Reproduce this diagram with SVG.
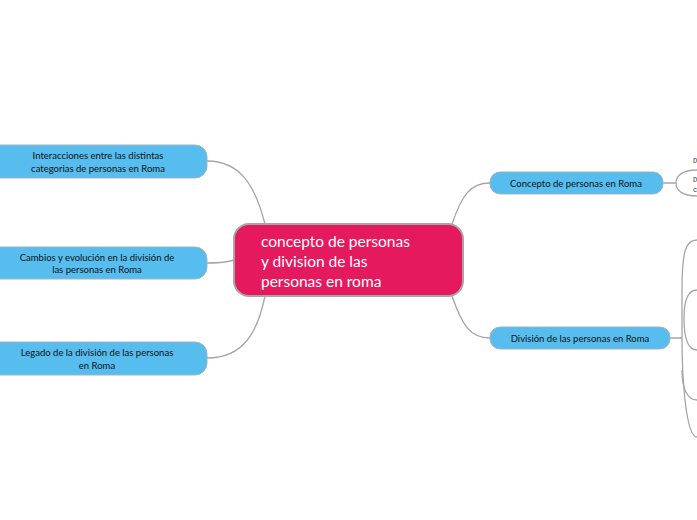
<svg xmlns="http://www.w3.org/2000/svg" width="697" height="520" viewBox="0 0 697 520">
<style>
.c{fill:none;stroke:#a6a6a6;stroke-width:1.3}
.n{fill:#56bdee;stroke:#9fb3c0;stroke-width:1}
.t{font-family:"Lato","Liberation Sans",sans-serif;font-size:9.5px;fill:#111;text-anchor:middle}
.s{font-family:"Liberation Mono",monospace;font-size:7px;fill:#333}
</style>
<rect width="697" height="520" fill="#fff"/>
<g id="connectors">
<path class="c" d="M207,161 C240,161 255,185 265,224"/>
<path class="c" d="M207,263 C225,263 226,262 234,260"/>
<path class="c" d="M207,358 C245,358 258,330 265,296"/>
<path class="c" d="M452,224 C462,195 470,183 490,183"/>
<path class="c" d="M452,296 C462,325 470,338 490,338"/>
<path class="c" d="M663,183 L676,183 M697,170 C682,170 676,176 676,183 C676,190 682,196 697,196"/>
<path class="c" d="M670,338 L682,338 M697,240 C686,240 682,250 682,290 L682,338 C682,380 686,437 697,437"/>
<path class="c" d="M697,290 C688,290 684,300 684,318 C684,340 688,350 697,350"/>
<path class="c" d="M682,370 C682,390 688,400 697,400"/>
</g>
<g id="center">
<rect x="234" y="224" width="229" height="72" rx="15" fill="#e5195e" stroke="#a6a6a6" stroke-width="2"/>
<text font-family="Lato,'Liberation Sans',sans-serif" font-size="15.5" fill="#fff"><tspan x="261" y="247">concepto de personas</tspan><tspan x="261" y="267">y division de las</tspan><tspan x="261" y="287">personas en roma</tspan></text>
</g>
<g id="n1"><rect class="n" x="-12" y="145" width="219" height="33" rx="12"/><text class="t"><tspan x="98" y="159">Interacciones entre las distintas</tspan><tspan x="98" y="172">categorias de personas en Roma</tspan></text></g>
<g id="n2"><rect class="n" x="-12" y="247" width="219" height="32" rx="12"/><text class="t"><tspan x="97" y="261">Cambios y evolución en la división de</tspan><tspan x="97" y="273">las personas en Roma</tspan></text></g>
<g id="n3"><rect class="n" x="-12" y="342" width="219" height="33" rx="12"/><text class="t"><tspan x="97" y="356">Legado de la división de las personas</tspan><tspan x="97" y="369">en Roma</tspan></text></g>
<g id="n4"><rect class="n" x="490" y="172" width="173" height="22" rx="10"/><text class="t" x="576" y="187">Concepto de personas en Roma</text></g>
<g id="n5"><rect class="n" x="490" y="327" width="180" height="22" rx="10"/><text class="t" x="580" y="342">División de las personas en Roma</text></g>
<g id="edge"><text class="s" x="693" y="163">D</text><text class="s" x="693" y="182">D</text><text class="s" x="693" y="192">c</text></g>
</svg>
